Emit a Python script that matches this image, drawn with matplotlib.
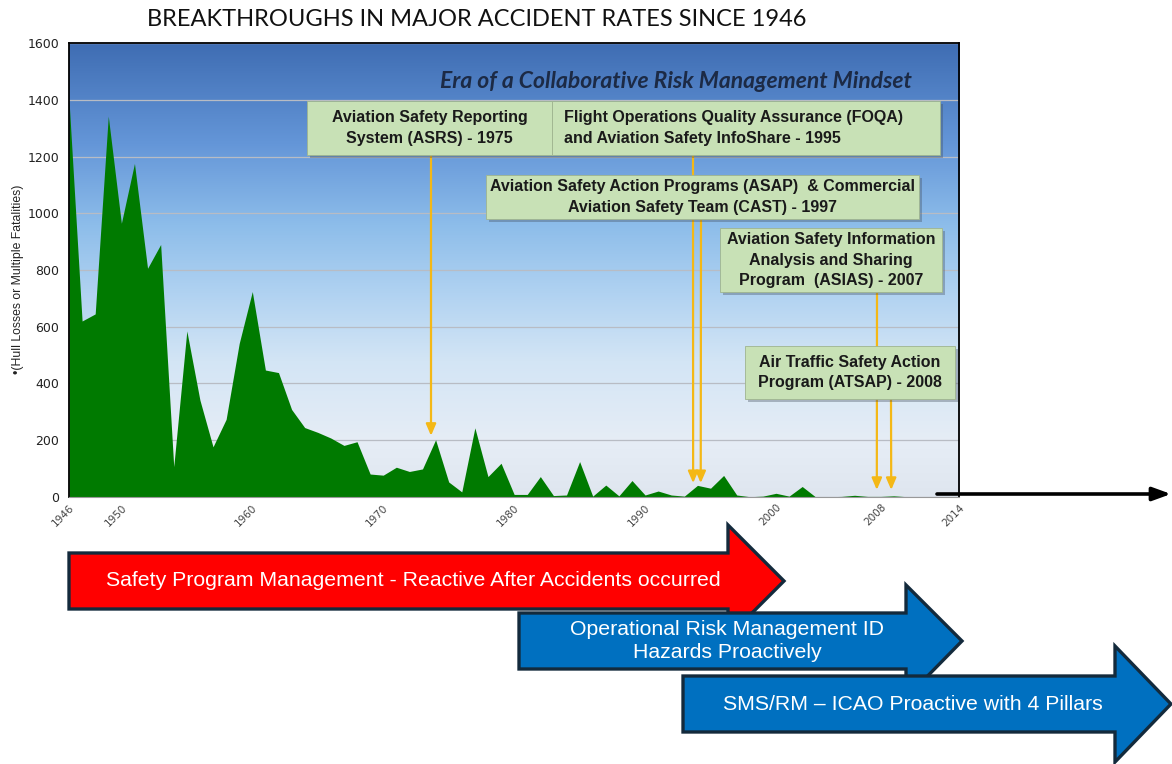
import numpy as np
import matplotlib.pyplot as plt
from matplotlib.colors import LinearSegmentedColormap
from matplotlib.patches import Polygon, Rectangle

# yearly major accident figures
years = list(range(1946, 2011))
losses = [1400, 620, 645, 1343, 965, 1176, 806, 890, 106, 585,
          341, 176, 273, 541, 724, 447, 438, 308, 244, 227,
          207, 181, 194, 80, 76, 104, 89, 98, 201, 52,
          17, 243, 71, 118, 8, 8, 71, 4, 6, 124,
          2, 41, 3, 57, 6, 20, 6, 2, 40, 30,
          75, 6, 0, 2, 12, 2, 36, 0, 0, 1,
          5, 1, 1, 3, 0]
xticks = [1946, 1950, 1960, 1970, 1980, 1990, 2000, 2008, 2014]
yticks = [0, 200, 400, 600, 800, 1000, 1200, 1400, 1600]

# program milestones and where their arrows point (year, value)
box_texts = ['Aviation Safety Reporting\nSystem (ASRS) - 1975',
             'Flight Operations Quality Assurance (FOQA)\nand Aviation Safety InfoShare - 1995',
             'Aviation Safety Action Programs (ASAP)  & Commercial\nAviation Safety Team (CAST) - 1997',
             'Aviation Safety Information\nAnalysis and Sharing\nProgram  (ASIAS) - 2007',
             'Air Traffic Safety Action\nProgram (ATSAP) - 2008']
arrow_years = [1973.65, 1993.67, 1994.25, 2007.7, 2008.8]
arrow_tips = [215, 48, 48, 24, 24]

era_labels = ['Safety Program Management - Reactive After Accidents occurred',
              'Operational Risk Management ID\nHazards Proactively',
              'SMS/RM \u2013 ICAO Proactive with 4 Pillars']
era_colors = ['#ff0000', '#0070c0', '#0070c0']

W, H = 1172, 764
fig = plt.figure(figsize=(W / 100, H / 100), dpi=100)
ax = fig.add_axes([69 / W, 1 - 496.7 / H, 890.3 / W, 453.4 / H])

# sky background
sky = LinearSegmentedColormap.from_list('sky', [
    (0.0, '#dfe6ef'), (0.12, '#e6edf6'), (0.3, '#d3e5f5'), (0.45, '#b0d2f1'),
    (0.6, '#8dbdea'), (0.78, '#6496d8'), (1.0, '#3f6db3')])
grad = np.linspace(0, 1, 256).reshape(-1, 1)
ax.imshow(grad, cmap=sky, origin='lower', aspect='auto',
          extent=(1946, 2014, 0, 1600), zorder=0)

ax.fill_between(years, losses, 0, color='#007a00', lw=0, zorder=2)
ax.set_xlim(1946, 2014)
ax.set_ylim(0, 1600)
ax.set_yticks(yticks)
ax.set_xticks(xticks)
ax.grid(axis='y', color='#b8bcc4', lw=0.9)
ax.set_axisbelow(True)
ax.tick_params(axis='y', length=0, pad=7, labelsize=9, labelcolor='#222222')
ax.tick_params(axis='x', length=0, pad=4, labelsize=7.5, labelcolor='#444444')
for lab in ax.get_xticklabels():
    lab.set_rotation(45)
    lab.set_ha('right')
    lab.set_rotation_mode('anchor')
for s in ['top', 'right', 'left']:
    ax.spines[s].set_color('black')
    ax.spines[s].set_linewidth(1.3)
ax.spines['bottom'].set_color('#999999')
ax.set_ylabel('\u2022(Hull Losses or Multiple Fatalities)', fontsize=8.8,
              family='Liberation Sans', color='#222222')
ax.yaxis.set_label_coords(-0.05, 0.48)

# overlay in pixel coordinates for the slide decorations
ov = fig.add_axes([0, 0, 1, 1], zorder=10)
ov.set_xlim(0, W)
ov.set_ylim(H, 0)
ov.axis('off')
ov.patch.set_alpha(0)

ov.text(477, 20, 'BREAKTHROUGHS IN MAJOR ACCIDENT RATES SINCE 1946',
        ha='center', va='center', fontsize=17, family=['Lato', 'DejaVu Sans'], color='#111111')
ov.text(912, 82, 'Era of a Collaborative Risk Management Mindset', ha='right', va='center',
        fontsize=16.5, family=['Lato', 'DejaVu Sans'], style='italic', weight='bold', color='#1c2a45')

boxes = [(307, 101, 552, 155), (552, 101, 940, 155), (486, 175, 919, 219),
         (720, 228, 942, 292), (745, 346, 955, 399)]
starts = [(431, 155), (693, 155), (701, 219), (877, 292), (891, 399)]
for (x0, y0, x1, y1), txt in zip(boxes, box_texts):
    ov.add_patch(Rectangle((x0 + 3, y0 + 3), x1 - x0, y1 - y0, color='#404a58', alpha=0.35, lw=0, zorder=2))
    ov.add_patch(Rectangle((x0, y0), x1 - x0, y1 - y0, facecolor='#c8e1b6', edgecolor='#9fb48f',
                           lw=0.6, zorder=3))
    if txt.startswith('Flight'):
        ov.text(x0 + 12, (y0 + y1) / 2, txt, ha='left', va='center', fontsize=11.5, weight='bold',
                family='Liberation Sans', color='#1a1a1a', linespacing=1.45, zorder=4)
    else:
        ov.text((x0 + x1) / 2, (y0 + y1) / 2, txt, ha='center', va='center', fontsize=11.5, weight='bold',
                family='Liberation Sans', color='#1a1a1a', linespacing=1.45, zorder=4)

for (sx, sy), yr, tip in zip(starts, arrow_years, arrow_tips):
    ov.annotate('', xy=(yr, tip), xycoords=ax.transData, xytext=(sx, sy), textcoords='data',
                arrowprops=dict(arrowstyle='-|>,head_length=0.7,head_width=0.3', color='#f4b816',
                                lw=1.6, shrinkA=0, shrinkB=0), zorder=1)

# black time arrow continuing the x axis
ov.annotate('', xy=(1171, 494), xytext=(937, 494),
            arrowprops=dict(arrowstyle='-|>,head_length=1.1,head_width=0.4', color='black',
                            lw=2.6, shrinkA=0, shrinkB=0))

# era arrows: body left, body right, body top, body bottom, head top, head bottom, tip
shapes = [(69, 728, 553, 609, 525, 637, 784),
          (519, 906, 613, 669, 585, 698, 962),
          (683, 1115, 676, 732, 646, 762, 1171)]
text_x = [413, 727, 913]
for i in range(3):
    l, r, t, b, ht, hb, tip = shapes[i]
    pts = [(l, t), (r, t), (r, ht), (tip, (t + b) / 2), (r, hb), (r, b), (l, b)]
    ov.add_patch(Polygon(pts, closed=True, facecolor=era_colors[i], edgecolor='#132a3c',
                         lw=2.4, joinstyle='miter', zorder=5 + 2 * i))
    ov.text(text_x[i], (t + b) / 2, era_labels[i], ha='center', va='center', fontsize=15.3,
            family='Liberation Sans', color='white', linespacing=1.3, zorder=6 + 2 * i)

fig.savefig('out.png', dpi=100)
